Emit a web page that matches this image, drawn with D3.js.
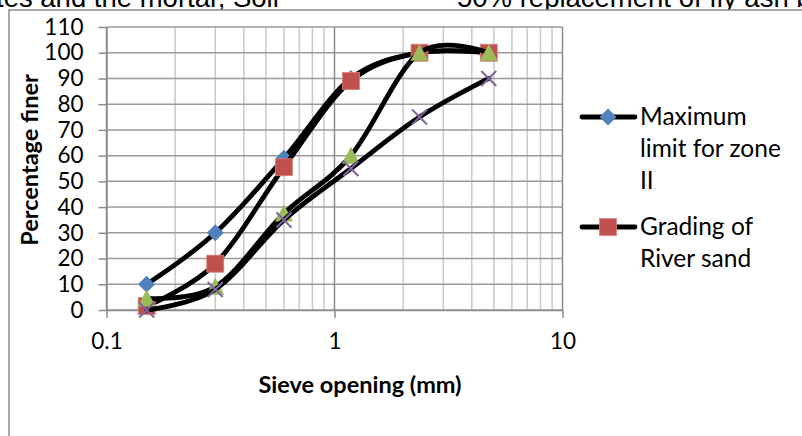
<!DOCTYPE html>
<html>
<head>
<meta charset="utf-8">
<script src="https://cdn.jsdelivr.net/npm/d3@7"></script>
<style>
  html, body { margin: 0; padding: 0; background: #fff; overflow: hidden; }
  svg { display: block; }
  .tick text { font-family: Lato, sans-serif; }
</style>
</head>
<body>
<div id="chart"></div>
<script>
// sieve sizes in mm
const sieveSizes = [0.15, 0.3, 0.6, 1.18, 2.36, 4.75];
const maxZoneII = [10, 30, 59, 90, 100, 100];
const riverSand = [1.5, 18, 55.5, 89, 100, 100];
const thirdSand = [4.5, 9, 37.5, 60, 100, 100];
const minZoneII = [0, 8, 35, 55, 75, 90];
const yTicks = [0, 10, 20, 30, 40, 50, 60, 70, 80, 90, 100, 110];
const xTicks = [0.1, 1, 10];

const width = 802;
const height = 436;
const plot = { left: 106.5, right: 562.5, top: 27, bottom: 310 };

const svg = d3.select('#chart').append('svg')
  .attr('width', width)
  .attr('height', height);

// clipped text from the page above the chart
svg.append('text')
  .attr('x', -4).attr('y', 7)
  .style('font-family', '"Liberation Sans", Arial, sans-serif')
  .style('font-size', '27.5px')
  .text('tes and the mortar, Soil');
svg.append('text')
  .attr('x', 457).attr('y', 7)
  .style('font-family', '"Liberation Sans", Arial, sans-serif')
  .style('font-size', '27.5px')
  .text('50% replacement of fly ash b');

// chart frame
svg.append('rect')
  .attr('x', 9).attr('y', 10)
  .attr('width', 900).attr('height', 600)
  .attr('fill', '#fff')
  .attr('stroke', '#8c8c8c')
  .attr('stroke-width', 1.5);

const x = d3.scaleLog().domain([0.1, 10]).range([plot.left, plot.right]);
const y = d3.scaleLinear().domain([0, 110]).range([plot.bottom, plot.top]);

// minor log gridlines
const minorX = d3.range(-1, 1).flatMap(e => d3.range(2, 10).map(m => m * 10 ** e));
svg.append('g')
  .selectAll('line')
  .data(minorX)
  .join('line')
  .attr('x1', d => x(d)).attr('x2', d => x(d))
  .attr('y1', plot.top).attr('y2', plot.bottom)
  .attr('stroke', '#c8c8c8')
  .attr('stroke-width', 1.5);

// horizontal gridlines
svg.append('g')
  .selectAll('line')
  .data(yTicks)
  .join('line')
  .attr('x1', plot.left).attr('x2', plot.right)
  .attr('y1', d => y(d)).attr('y2', d => y(d))
  .attr('stroke', '#9a9a9a')
  .attr('stroke-width', 1.5);

// major vertical gridlines
svg.append('g')
  .selectAll('line')
  .data(xTicks)
  .join('line')
  .attr('x1', d => x(d)).attr('x2', d => x(d))
  .attr('y1', plot.top).attr('y2', plot.bottom)
  .attr('stroke', '#8c8c8c')
  .attr('stroke-width', 1.5);

// axes
const yAxis = svg.append('g')
  .attr('transform', `translate(${plot.left},0)`)
  .call(d3.axisLeft(y).tickValues(yTicks).tickSize(8).tickPadding(15).tickSizeOuter(0));
const xAxis = svg.append('g')
  .attr('transform', `translate(0,${plot.bottom})`)
  .call(d3.axisBottom(x).tickValues(xTicks).tickFormat(d3.format('')).tickSize(8).tickPadding(15).tickSizeOuter(0));
[yAxis, xAxis].forEach(g => {
  g.selectAll('.domain').attr('stroke', '#8c8c8c').attr('stroke-width', 1.5);
  g.selectAll('.tick line').attr('stroke', '#8c8c8c').attr('stroke-width', 1.5);
  g.selectAll('.tick text')
    .attr('fill', '#000')
    .style('font-size', '22.5px');
});

// axis titles
svg.append('text')
  .attr('transform', `translate(38,160) rotate(-90)`)
  .attr('text-anchor', 'middle')
  .style('font-family', 'Lato, sans-serif')
  .style('font-weight', 'bold')
  .style('font-size', '23.5px')
  .text('Percentage finer');
svg.append('text')
  .attr('x', 360).attr('y', 393)
  .attr('text-anchor', 'middle')
  .style('font-family', 'Lato, sans-serif')
  .style('font-weight', 'bold')
  .style('font-size', '23.5px')
  .text('Sieve opening (mm)');

// series
const series = [
  { name: 'Maximum limit for zone II', values: maxZoneII, marker: 'diamond', color: '#4f81bd' },
  { name: 'Grading of River sand', values: riverSand, marker: 'square', color: '#c0504d' },
  { name: 'Series 3', values: thirdSand, marker: 'triangle', color: '#9bbb59' },
  { name: 'Minimum limit for zone II', values: minZoneII, marker: 'cross', color: '#8064a2' },
];

const line = d3.line()
  .x(d => x(d[0]))
  .y(d => y(d[1]))
  .curve(d3.curveCardinal.tension(0));

const drawMarker = (g, type, color) => {
  if (type === 'diamond') {
    g.append('path').attr('d', 'M0,-8.5L8.5,0L0,8.5L-8.5,0Z').attr('fill', color);
  } else if (type === 'square') {
    g.append('rect').attr('x', -8.5).attr('y', -8.5).attr('width', 17).attr('height', 17)
      .attr('fill', color).attr('stroke', '#d9807e').attr('stroke-width', 0.8);
  } else if (type === 'triangle') {
    g.append('path').attr('d', 'M0,-9L9,8L-9,8Z').attr('fill', color);
  } else {
    g.append('path').attr('d', 'M-7.5,-7.5L7.5,7.5M7.5,-7.5L-7.5,7.5')
      .attr('stroke', color).attr('stroke-width', 2).attr('fill', 'none');
  }
};

series.forEach(s => {
  const pts = sieveSizes.map((v, i) => [v, s.values[i]]);
  svg.append('path')
    .attr('d', line(pts))
    .attr('fill', 'none')
    .attr('stroke', '#000')
    .attr('stroke-width', 4.8)
    .attr('stroke-linejoin', 'round')
    .attr('stroke-linecap', 'round');
  pts.forEach(p => {
    const g = svg.append('g').attr('transform', `translate(${x(p[0])},${y(p[1])})`);
    drawMarker(g, s.marker, s.color);
  });
});

// legend (only the first two entries are visible)
const legendItems = [
  { lines: ['Maximum', 'limit for zone', 'II'], y: 117, s: series[0] },
  { lines: ['Grading of', 'River sand'], y: 227, s: series[1] },
];
legendItems.forEach(item => {
  const g = svg.append('g');
  g.append('line')
    .attr('x1', 582).attr('x2', 635)
    .attr('y1', item.y).attr('y2', item.y)
    .attr('stroke', '#000').attr('stroke-width', 4.8)
    .attr('stroke-linecap', 'round');
  const m = g.append('g').attr('transform', `translate(608,${item.y})`);
  drawMarker(m, item.s.marker, item.s.color);
  g.append('text')
    .style('font-family', 'Lato, sans-serif')
    .style('font-size', '24.5px')
    .selectAll('tspan')
    .data(item.lines)
    .join('tspan')
    .attr('x', 640)
    .attr('y', (d, i) => item.y + 8 + i * 32)
    .text(d => d);
});
</script>
</body>
</html>
